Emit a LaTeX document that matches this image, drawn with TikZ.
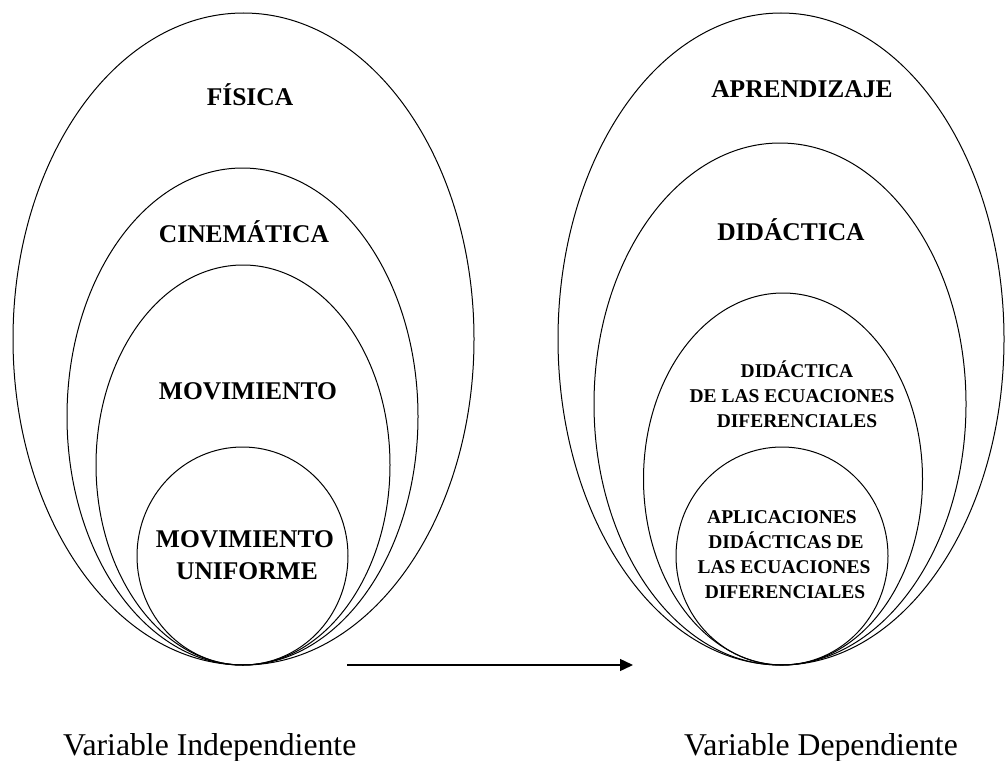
\documentclass[tikz,border=0pt]{standalone}
\usepackage{fontspec}
\setmainfont{Liberation Serif}
\usetikzlibrary{shapes.geometric,arrows.meta}
\tikzset{
  setel/.style={draw=black, line width=1pt, ellipse, inner sep=0pt},
  bigtxt/.style={anchor=base, inner sep=0pt, font=\fontsize{25.5}{30}\selectfont\bfseries},
  smalltxt/.style={anchor=base, inner sep=0pt, font=\fontsize{19.5}{25}\selectfont\bfseries},
  captxt/.style={inner sep=0pt, font=\fontsize{31.7}{36}\selectfont},
  linkarrow/.style={line width=1.4pt, -{Triangle[length=13pt,width=12pt]}}
}
\begin{document}
\begin{tikzpicture}[x=1pt,y=-1pt]
\useasboundingbox (0,0) rectangle (1006,760);
% left group
\node[setel, minimum width=461, minimum height=652] (L1) at (243.5,339) {};
\node[setel, minimum width=351, minimum height=497] (L2) at (242.5,416.5) {};
\node[setel, minimum width=294, minimum height=400] (L3) at (243,465) {};
\node[setel, minimum width=211, minimum height=218] (L4) at (242.5,556) {};
% right group
\node[setel, minimum width=446, minimum height=652] (R1) at (781,339) {};
\node[setel, minimum width=372, minimum height=522] (R2) at (780,404) {};
\node[setel, minimum width=279, minimum height=372] (R3) at (783,479) {};
\node[setel, minimum width=212, minimum height=218] (R4) at (782,556) {};
% labels left
\node[bigtxt] (tL1) at (250,105) {FÍSICA};
\node[bigtxt] (tL2) at (244,242) {CINEMÁTICA};
\node[bigtxt] (tL3) at (248,399) {MOVIMIENTO};
\node[bigtxt] (tL4a) at (245,547) {MOVIMIENTO};
\node[bigtxt] (tL4b) at (247,579) {UNIFORME};
% labels right
\node[bigtxt] (tR1) at (802,97) {APRENDIZAJE};
\node[bigtxt] (tR2) at (791,240) {DIDÁCTICA};
\node[smalltxt] (tR3a) at (797,377) {DIDÁCTICA};
\node[smalltxt] (tR3b) at (792,402) {DE LAS ECUACIONES};
\node[smalltxt] (tR3c) at (797,427) {DIFERENCIALES};
\node[smalltxt] (tR4a) at (782,523) {APLICACIONES};
\node[smalltxt] (tR4b) at (786,548) {DIDÁCTICAS DE};
\node[smalltxt] (tR4c) at (784,573) {LAS ECUACIONES};
\node[smalltxt] (tR4d) at (785,598) {DIFERENCIALES};
% arrow
\coordinate (aS) at (347,665);
\coordinate (aE) at (633,665);
\draw[linkarrow] (aS) -- (aE);
% captions
\node[captxt, anchor=base west] (cL) at (63,755) {Variable Independiente};
\node[captxt, anchor=base east] (cR) at (958,755) {Variable Dependiente};
\end{tikzpicture}
\end{document}
